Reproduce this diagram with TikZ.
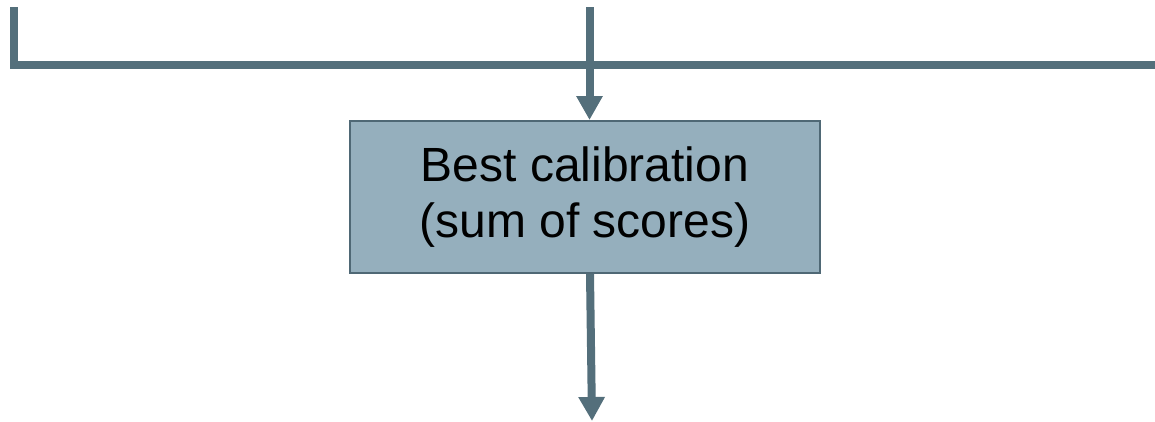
\documentclass[tikz,border=0pt]{standalone}
\usepackage{fontspec}
\setmainfont{Liberation Sans}
\usetikzlibrary{arrows.meta}
\definecolor{linec}{HTML}{546F7B}
\definecolor{boxfill}{HTML}{95AFBD}
\definecolor{boxedge}{HTML}{4F6875}
\tikzset{
  conn/.style={draw=linec, line width=8pt},
  arr/.style={conn, -{Triangle[length=24pt,width=25pt]}},
  calbox/.style={draw=boxedge, line width=2pt, fill=boxfill, minimum width=470pt, minimum height=152pt, inner sep=0pt, align=center, font=\fontsize{48}{56}\selectfont}
}
\begin{document}
\begin{tikzpicture}[x=1pt,y=-1pt]
\useasboundingbox (0,0) rectangle (1155,421);
\coordinate (tl) at (14,7);
\coordinate (corner) at (14,65);
\coordinate (re) at (1160,65);
\coordinate (tm) at (589.5,7);
\coordinate (bm) at (590,273);
\coordinate (bot) at (592,421);
\node[calbox] (b) at (585,197) {Best calibration\\(sum of scores)};
\draw[conn, line join=miter] (tl) -- (corner) -- (re);
\draw[arr] (tm) -- (tm |- b.north);
\draw[arr] (bm |- b.south) -- (bot);
\end{tikzpicture}
\end{document}
